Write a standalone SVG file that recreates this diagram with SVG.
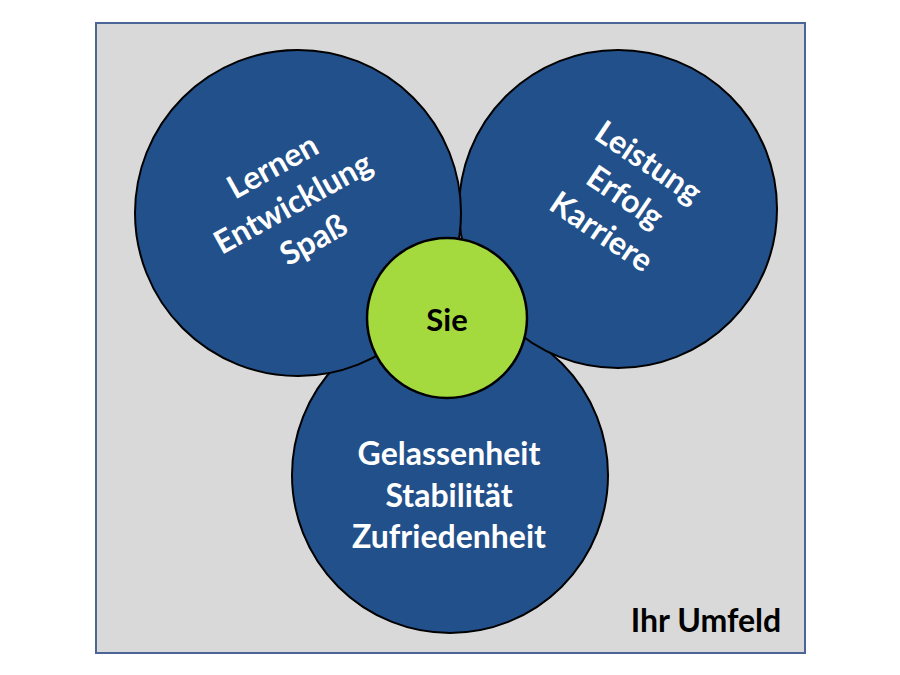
<svg xmlns="http://www.w3.org/2000/svg" width="900" height="675" viewBox="0 0 900 675">
<style>
.blue{fill:#22508A;stroke:#000;stroke-width:2}
.green{fill:#A5DA3E;stroke:#000;stroke-width:2.5}
.wt{font-family:Lato,"Open Sans","Liberation Sans",sans-serif;font-weight:bold;font-size:32px;fill:#fff;text-anchor:middle}
.bt{font-family:Lato,"Open Sans","Liberation Sans",sans-serif;font-weight:bold;fill:#000;text-anchor:middle}
</style>
<rect x="0" y="0" width="900" height="675" fill="#fff"/>
<g id="umfeld">
<rect x="96" y="23" width="709" height="630" fill="#D9D9D9" stroke="#4A6596" stroke-width="2"/>
<text class="bt" x="706" y="632" font-size="32">Ihr Umfeld</text>
</g>
<g id="connectors"/>
<g id="bottom">
<circle class="blue" cx="450" cy="475" r="158"/>
<text class="wt" x="449" y="465">Gelassenheit</text>
<text class="wt" x="449" y="507">Stabilität</text>
<text class="wt" x="449" y="548">Zufriedenheit</text>
</g>
<g id="right">
<circle class="blue" cx="618" cy="209" r="159"/>
<g transform="translate(625,197) rotate(34)">
<text class="wt" x="0" y="-31">Leistung</text>
<text class="wt" x="0" y="11">Erfolg</text>
<text class="wt" x="0" y="53">Karriere</text>
</g>
</g>
<g id="left">
<circle class="blue" cx="298" cy="213" r="163"/>
<g transform="translate(293,203) rotate(-29)">
<text class="wt" x="0" y="-31">Lernen</text>
<text class="wt" x="0" y="11">Entwicklung</text>
<text class="wt" x="0" y="53">Spaß</text>
</g>
</g>
<g id="sie">
<circle class="green" cx="447" cy="318" r="80"/>
<text class="bt" x="447" y="331" font-size="31">Sie</text>
</g>
</svg>
